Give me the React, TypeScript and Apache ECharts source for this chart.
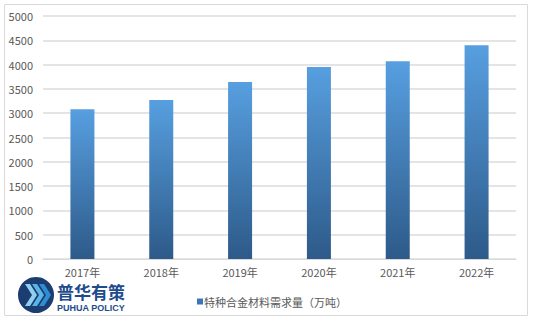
import React, { useEffect, useRef } from "react";
import * as echarts from "echarts";

const categories = ["2017年", "2018年", "2019年", "2020年", "2021年", "2022年"];
const demand = [3080, 3270, 3640, 3950, 4070, 4400];
const seriesName = "特种合金材料需求量（万吨）";

export default function App() {
  const ref = useRef<HTMLDivElement>(null);
  useEffect(() => {
    const chart = echarts.init(ref.current!, undefined, { renderer: "svg" });
    const font = "'Microsoft YaHei', 'Noto Sans CJK SC', sans-serif";
    chart.setOption({
      animation: false,
      backgroundColor: "#ffffff",
      grid: { left: 43, right: 18, top: 16, bottom: 64, containLabel: false },
      xAxis: {
        type: "category",
        data: categories,
        axisLine: { show: true, lineStyle: { color: "#d9d9d9", width: 1 } },
        axisTick: { show: false },
        axisLabel: { color: "#595959", fontSize: 11, fontFamily: font, margin: 7 },
      },
      yAxis: {
        type: "value",
        min: 0,
        max: 5000,
        interval: 500,
        axisLine: { show: false },
        axisTick: { show: false },
        axisLabel: {
          color: "#595959",
          fontSize: 11,
          fontFamily: font,
          margin: 10,
          formatter: (v: number) => String(v),
        },
        splitLine: { lineStyle: { color: "#e4e4e4", width: 2 } },
      },
      legend: {
        show: true,
        left: 192,
        top: 291,
        itemWidth: 6,
        itemHeight: 6,
        itemGap: 4,
        icon: "rect",
        textStyle: { color: "#595959", fontSize: 11, fontFamily: font, padding: [0, 0, 0, -4] },
        data: [{ name: seriesName, itemStyle: { color: "#3a76b5" } }],
      },
      series: [
        {
          name: seriesName,
          type: "bar",
          data: demand,
          barWidth: 24,
          itemStyle: {
            color: new echarts.graphic.LinearGradient(0, 0, 0, 1, [
              { offset: 0, color: "#579fe0" },
              { offset: 1, color: "#2d5a89" },
            ]),
          },
        },
      ],
      graphic: [
        {
          type: "rect",
          shape: { x: 4.5, y: 4.5, width: 523, height: 311 },
          style: { fill: "none", stroke: "#d9d9d9", lineWidth: 1 },
          silent: true,
        },
        {
          type: "group",
          left: 18,
          top: 277,
          children: [
            { type: "circle", shape: { cx: 18, cy: 19, r: 18 }, style: { fill: "#1b3d70" } },
            { type: "polygon", shape: { points: [[7, 8], [12, 8], [19, 19], [12, 30], [7, 30], [14, 19]] }, style: { fill: "#8fd0f0" } },
            { type: "polygon", shape: { points: [[14, 8], [19, 8], [26, 19], [19, 30], [14, 30], [21, 19]] }, style: { fill: "#5ab4e6" } },
            { type: "polygon", shape: { points: [[21, 8], [26, 8], [33, 19], [26, 30], [21, 30], [28, 19]] }, style: { fill: "#2f8ed3" } },
            {
              type: "text",
              x: 39,
              y: 7,
              style: { text: "普华有策", fill: "#1e4b8c", fontSize: 17, fontWeight: "bold", fontFamily: font },
            },
            {
              type: "text",
              x: 39,
              y: 27,
              style: { text: "PUHUA POLICY", fill: "#1e4b8c", fontSize: 9, fontWeight: "bold", fontFamily: "'Liberation Sans', Arial, sans-serif" },
            },
          ],
        },
      ],
    });
    return () => chart.dispose();
  }, []);
  return <div ref={ref} style={{ width: 534, height: 323, position: "absolute", left: 0, top: 0 }} />;
}
